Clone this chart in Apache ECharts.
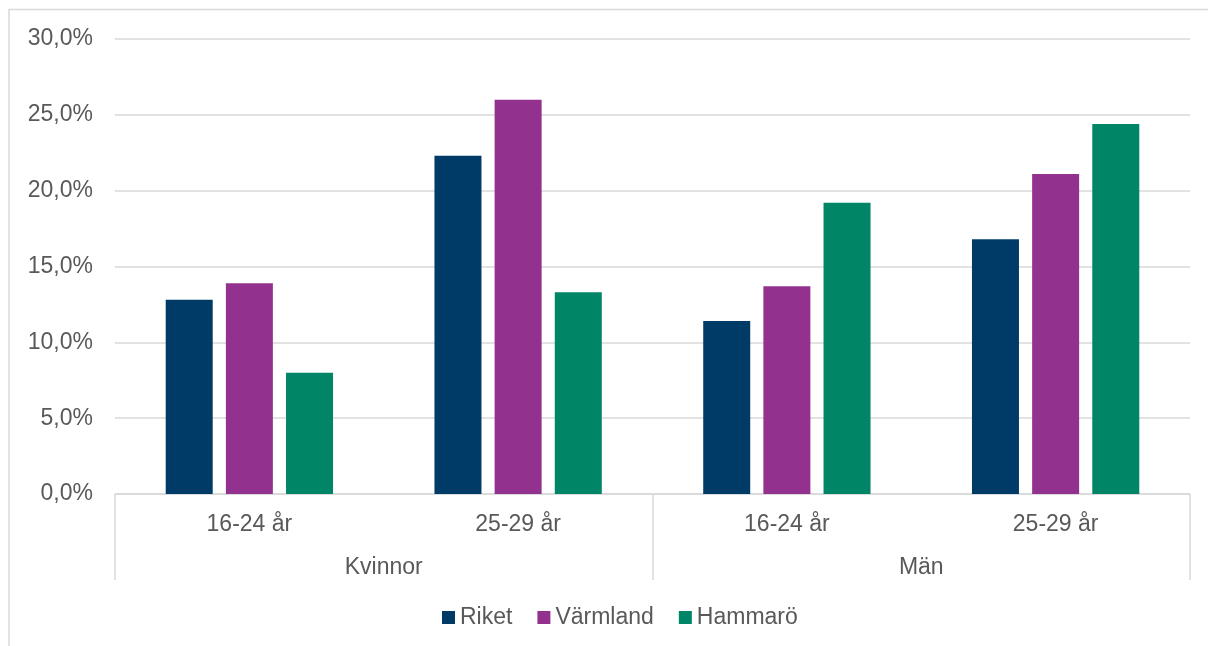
<!DOCTYPE html>
<html>
<head>
<meta charset="utf-8">
<script src="https://cdn.jsdelivr.net/npm/echarts@6/dist/echarts.min.js"></script>
<style>
html,body{margin:0;padding:0;background:#fff;}
#chart{width:1208px;height:646px;}
</style>
</head>
<body>
<div id="chart"></div>
<script>
const innerCategories = ['16-24 år', '25-29 år', '16-24 år', '25-29 år'];
const outerCategories = ['Kvinnor', 'Män'];
const seriesNames = ['Riket', 'Värmland', 'Hammarö'];
const riket = [12.8, 22.3, 11.4, 16.8];
const varmland = [13.9, 26.0, 13.7, 21.1];
const hammaro = [8.0, 13.3, 19.2, 24.4];
const yTicks = [0, 5, 10, 15, 20, 25, 30];

const colors = ['#003B68', '#93328E', '#008566'];
const font = 'Liberation Sans, Arial, sans-serif';
const textColor = '#595959';

const chart = echarts.init(document.getElementById('chart'), null, {renderer: 'canvas'});
const seriesData = [riket, varmland, hammaro];

chart.setOption({
  animation: false,
  backgroundColor: '#ffffff',
  graphic: [{
    type: 'rect',
    shape: {x: 9, y: 9.5, width: 1300, height: 700},
    style: {fill: 'none', stroke: '#d9d9d9', lineWidth: 1.5},
    silent: true
  }],
  grid: {left: 115, right: 18, top: 39, bottom: 152, containLabel: false},
  legend: {
    data: seriesNames,
    bottom: 12,
    left: 437,
    itemWidth: 13,
    itemHeight: 13,
    itemGap: 25,
    icon: 'rect',
    textStyle: {fontFamily: font, fontSize: 23, color: textColor}
  },
  xAxis: [{
    type: 'category',
    data: innerCategories,
    position: 'bottom',
    axisLine: {show: true, lineStyle: {color: '#d9d9d9', width: 1.5}},
    axisTick: {show: false},
    axisLabel: {fontFamily: font, fontSize: 23, color: textColor, margin: 19, interval: 0}
  }, {
    type: 'category',
    data: outerCategories,
    position: 'bottom',
    offset: 0,
    axisLine: {show: false},
    axisTick: {show: true, length: 86, lineStyle: {color: '#d9d9d9', width: 1.5}},
    axisLabel: {fontFamily: font, fontSize: 23, color: textColor, margin: 62, interval: 0},
    splitLine: {show: false}
  }],
  yAxis: {
    type: 'value',
    min: yTicks[0],
    max: yTicks[yTicks.length - 1],
    interval: 5,
    axisLine: {show: false},
    axisTick: {show: false},
    splitLine: {lineStyle: {color: '#d9d9d9', width: 1.5}},
    axisLabel: {
      fontFamily: font, fontSize: 23, color: textColor, margin: 22,
      padding: [6, 0, 0, 0],
      formatter: v => v.toFixed(1).replace('.', ',') + '%'
    }
  },
  series: seriesNames.map((name, i) => ({
    name: name,
    type: 'bar',
    xAxisIndex: 0,
    data: seriesData[i],
    barWidth: 47,
    barGap: '28%',
    itemStyle: {color: colors[i]}
  }))
});
</script>
</body>
</html>
